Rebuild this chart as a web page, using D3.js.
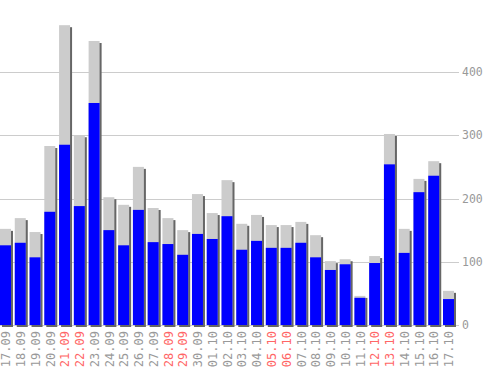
<!DOCTYPE html>
<html>
<head>
<meta charset="utf-8">
<script src="https://cdn.jsdelivr.net/npm/d3@7"></script>
<style>
  body { margin: 0; background: #fff; }
  svg text { font-family: "DejaVu Sans Mono", monospace; }
</style>
</head>
<body>
<div id="chart"></div>
<script>
const days = ["17.09","18.09","19.09","20.09","21.09","22.09","23.09","24.09","25.09","26.09",
  "27.09","28.09","29.09","30.09","01.10","02.10","03.10","04.10","05.10","06.10",
  "07.10","08.10","09.10","10.10","11.10","12.10","13.10","14.10","15.10","16.10","17.10"];
const weekend = ["21.09","22.09","28.09","29.09","05.10","06.10","12.10","13.10"];
const totals = [152,169,147,283,474,300,449,202,190,250,185,169,150,207,177,229,160,
  174,158,158,163,142,101,104,46,109,302,152,231,259,54];
const values = [126,130,107,179,285,188,351,150,126,182,131,128,111,144,136,172,119,
  133,122,122,130,107,87,96,43,98,254,114,210,236,41];
const yTicks = [0,100,200,300,400];

const width = 498, height = 370;
const plotRight = 459, baseY = 325;

const svg = d3.select('#chart').append('svg')
    .attr('width', width)
    .attr('height', height);

const x = d3.scaleBand()
    .domain(days)
    .range([0, 454])
    .paddingInner(0.255)
    .paddingOuter(0);

const y = d3.scaleLinear()
    .domain([0, 400])
    .range([baseY, 72]);

// grid lines
svg.selectAll('.grid')
    .data(yTicks)
    .enter()
    .append('line')
    .attr('x1', 0)
    .attr('x2', plotRight)
    .attr('y1', d => Math.round(y(d)) + 0.5)
    .attr('y2', d => Math.round(y(d)) + 0.5)
    .attr('stroke', '#cccccc');

svg.selectAll('.ytick')
    .data(yTicks)
    .enter()
    .append('text')
    .attr('x', 462)
    .attr('y', d => y(d))
    .attr('dy', '0.35em')
    .attr('font-size', 11.5)
    .attr('fill', '#999999')
    .text(d => d);

// shadows
svg.selectAll('.shadow')
    .data(days)
    .enter()
    .append('rect')
    .attr('x', d => x(d) + 2)
    .attr('y', (d, i) => y(totals[i]) + 2)
    .attr('width', x.bandwidth())
    .attr('height', (d, i) => baseY - y(totals[i]))
    .attr('fill', '#666666');

// totals
svg.selectAll('.total')
    .data(days)
    .enter()
    .append('rect')
    .attr('x', d => x(d))
    .attr('y', (d, i) => y(totals[i]))
    .attr('width', x.bandwidth())
    .attr('height', (d, i) => baseY - y(totals[i]))
    .attr('fill', '#cccccc');

// values
svg.selectAll('.value')
    .data(days)
    .enter()
    .append('rect')
    .attr('x', d => x(d))
    .attr('y', (d, i) => y(values[i]))
    .attr('width', x.bandwidth())
    .attr('height', (d, i) => baseY - y(values[i]))
    .attr('fill', '#0000ff');

// date labels
svg.selectAll('.xlabel')
    .data(days)
    .enter()
    .append('text')
    .attr('transform', d => `translate(${x(d) + x.bandwidth() / 2 + 0.5}, 331) rotate(-90)`)
    .attr('text-anchor', 'end')
    .attr('dy', '0.35em')
    .attr('font-size', 12)
    .attr('fill', d => weekend.includes(d) ? '#ff6666' : '#999999')
    .text(d => d);
</script>
</body>
</html>
